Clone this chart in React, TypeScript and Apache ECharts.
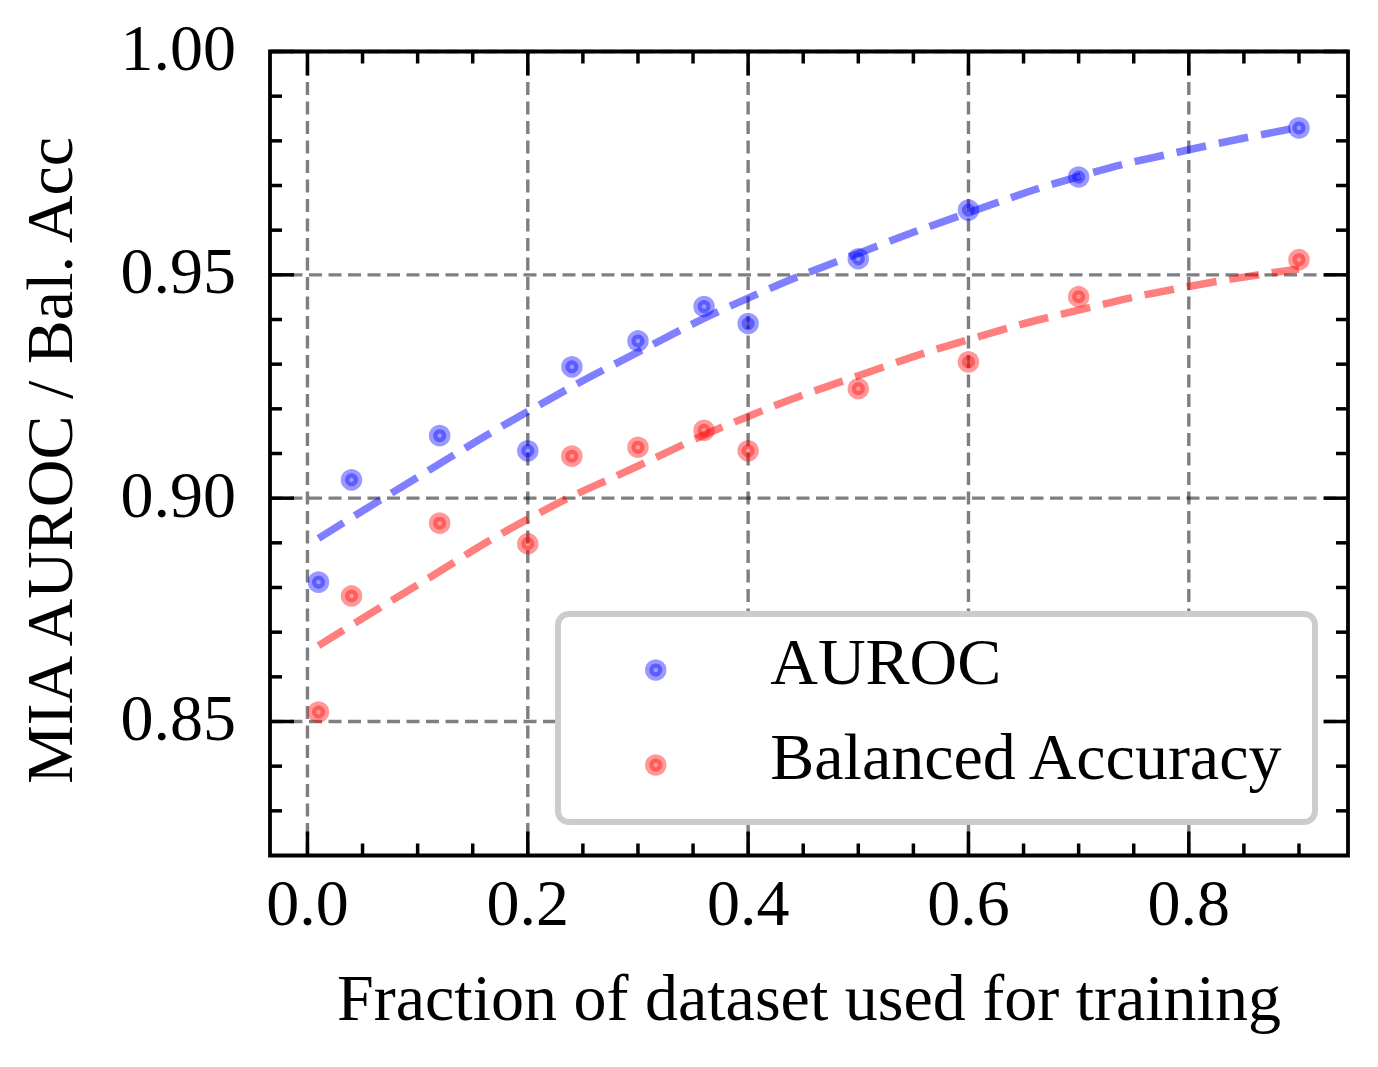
import React, { useEffect, useRef } from "react";
import * as echarts from "echarts";

// ---- data ----
const xFractions = [0.01, 0.04, 0.12, 0.2, 0.24, 0.3, 0.36, 0.4, 0.5, 0.6, 0.7, 0.9];
const aurocValues = [0.8812, 0.9041, 0.914, 0.9106, 0.9294, 0.9352, 0.9429, 0.9391, 0.9536, 0.9645, 0.9719, 0.9829];
const balAccValues = [0.8521, 0.8781, 0.8944, 0.8898, 0.9094, 0.9114, 0.9152, 0.9106, 0.9245, 0.9305, 0.9451, 0.9534];

const fitX = [0.01, 0.1, 0.2, 0.3, 0.4, 0.5, 0.6, 0.7, 0.8, 0.9];
const aurocFit = [0.891, 0.9047, 0.9194, 0.9327, 0.9448, 0.9548, 0.9639, 0.972, 0.978, 0.983];
const balAccFit = [0.867, 0.8806, 0.8953, 0.9072, 0.9183, 0.9274, 0.9355, 0.9421, 0.9474, 0.9513];

const xMajorTicks = [0.0, 0.2, 0.4, 0.6, 0.8];
const xTickLabels = ["0.0", "0.2", "0.4", "0.6", "0.8"];
const xMinorTicks = [0.05, 0.1, 0.15, 0.25, 0.3, 0.35, 0.45, 0.5, 0.55, 0.65, 0.7, 0.75, 0.85, 0.9];
const yMajorTicks = [0.85, 0.9, 0.95, 1.0];
const yTickLabels = ["0.85", "0.90", "0.95", "1.00"];
const yMinorTicks = [0.83, 0.84, 0.86, 0.87, 0.88, 0.89, 0.91, 0.92, 0.93, 0.94, 0.96, 0.97, 0.98, 0.99];

const seriesNames = ["AUROC", "Balanced Accuracy"];
const xTitle = "Fraction of dataset used for training";
const yTitle = "MIA AUROC / Bal. Acc";

const X_MIN = -0.034;
const X_MAX = 0.9445;
const Y_MIN = 0.82;
const Y_MAX = 1.0;

const FONT = '"Liberation Serif", "Times New Roman", "DejaVu Serif", serif';
const FS = 66;

// tick rows: [value, axis (0 = x, 1 = y), major flag, label index]
const tickRows = [
  ...xMajorTicks.map((v, i) => [v, 0, 1, i]),
  ...xMinorTicks.map((v) => [v, 0, 0, -1]),
  ...yMajorTicks.map((v, i) => [v, 1, 1, i]),
  ...yMinorTicks.map((v) => [v, 1, 0, -1]),
];
const gridRows = [
  ...xMajorTicks.map((v) => [v, 0]),
  ...yMajorTicks.map((v) => [v, 1]),
];

function App() {
  const ref = useRef<HTMLDivElement>(null);

  useEffect(() => {
    if (!ref.current) return;
    const chart = echarts.init(ref.current, null, { renderer: "svg" });

    const tickStyle = { stroke: "#000", lineWidth: 3.5 };

    const renderTicks = (params: any, api: any) => {
      const v = api.value(0);
      const onY = api.value(1) === 1;
      const major = api.value(2) === 1;
      const li = api.value(3);
      const len = major ? 24 : 12;
      const children: any[] = [];
      if (!onY) {
        const b = api.coord([v, Y_MIN]);
        const t = api.coord([v, Y_MAX]);
        children.push({ type: "line", shape: { x1: b[0], y1: b[1], x2: b[0], y2: b[1] - len }, style: tickStyle });
        children.push({ type: "line", shape: { x1: t[0], y1: t[1], x2: t[0], y2: t[1] + len }, style: tickStyle });
        if (major) {
          children.push({
            type: "text",
            x: b[0],
            y: b[1] + 47,
            style: { text: xTickLabels[li], fill: "#000", fontSize: FS, fontFamily: FONT, align: "center", verticalAlign: "middle" },
          });
        }
      } else {
        const l = api.coord([X_MIN, v]);
        const r = api.coord([X_MAX, v]);
        children.push({ type: "line", shape: { x1: l[0], y1: l[1], x2: l[0] + len, y2: l[1] }, style: tickStyle });
        children.push({ type: "line", shape: { x1: r[0], y1: r[1], x2: r[0] - len, y2: r[1] }, style: tickStyle });
        if (major) {
          children.push({
            type: "text",
            x: l[0] - 34,
            y: l[1] - 4,
            style: { text: yTickLabels[li], fill: "#000", fontSize: FS, fontFamily: FONT, align: "right", verticalAlign: "middle" },
          });
        }
      }
      return { type: "group", children };
    };

    const renderGrid = (params: any, api: any) => {
      const v = api.value(0);
      const onY = api.value(1) === 1;
      const style = { stroke: "rgba(0,0,0,0.5)", lineWidth: 3.4, lineDash: [13, 6.5] };
      if (!onY) {
        const b = api.coord([v, Y_MIN]);
        const t = api.coord([v, Y_MAX]);
        return { type: "line", shape: { x1: b[0], y1: b[1], x2: t[0], y2: t[1] }, style };
      }
      const l = api.coord([X_MIN, v]);
      const r = api.coord([X_MAX, v]);
      return { type: "line", shape: { x1: l[0], y1: l[1], x2: r[0], y2: r[1] }, style };
    };

    const blue = "rgba(0,0,255,0.5)";
    const red = "rgba(255,0,0,0.5)";

    chart.setOption({
      animation: false,
      textStyle: { fontFamily: FONT, color: "#000" },
      grid: {
        left: 270,
        right: 30,
        top: 51.5,
        bottom: 211.5,
        show: true,
        borderColor: "#000",
        borderWidth: 3.8,
        backgroundColor: "transparent",
      },
      xAxis: {
        type: "value",
        min: X_MIN,
        max: X_MAX,
        axisLine: { show: false },
        axisTick: { show: false },
        axisLabel: { show: false },
        splitLine: { show: false },
        name: xTitle,
        nameLocation: "middle",
        nameGap: 142,
        nameTextStyle: { fontSize: FS, fontFamily: FONT, color: "#000", align: "center", verticalAlign: "middle" },
      },
      yAxis: {
        type: "value",
        min: Y_MIN,
        max: Y_MAX,
        axisLine: { show: false },
        axisTick: { show: false },
        axisLabel: { show: false },
        splitLine: { show: false },
        name: yTitle,
        nameLocation: "middle",
        nameGap: 221,
        nameTextStyle: { fontSize: FS, fontFamily: FONT, color: "#000", align: "center", verticalAlign: "middle", padding: [0, 14, 0, 0] },
      },
      legend: {
        data: seriesNames,
        orient: "vertical",
        left: 645,
        top: 628,
        padding: 0,
        itemWidth: 13,
        itemHeight: 13,
        itemGap: 19,
        z: 100,
        icon: "circle",
        itemStyle: { borderWidth: 8.5 },
        formatter: (name: string) => `{t|${name}}\n{s| }`,
        textStyle: {
          color: "#000",
          padding: [0, 0, 0, 103],
          rich: {
            t: { fontSize: FS, fontFamily: FONT, color: "#000", lineHeight: 66 },
            s: { fontSize: 2, lineHeight: 18 },
          },
        },
      },
      graphic: {
        elements: [
          {
            type: "rect",
            z: 50,
            shape: { x: 558, y: 614, width: 757, height: 208, r: 11 },
            style: { fill: "#fff", stroke: "#cccccc", lineWidth: 6 },
          },
        ],
      },
      series: [
        {
          name: "grid",
          type: "custom",
          renderItem: renderGrid,
          data: gridRows,
          z: 1,
          silent: true,
        },
        {
          name: seriesNames[0],
          type: "scatter",
          data: xFractions.map((x, i) => [x, aurocValues[i]]),
          symbol: "circle",
          symbolSize: 13,
          itemStyle: { color: blue, borderColor: blue, borderWidth: 8.5 },
          z: 3,
        },
        {
          name: seriesNames[1],
          type: "scatter",
          data: xFractions.map((x, i) => [x, balAccValues[i]]),
          symbol: "circle",
          symbolSize: 13,
          itemStyle: { color: red, borderColor: red, borderWidth: 8.5 },
          z: 3,
        },
        {
          name: "AUROC fit",
          type: "line",
          data: fitX.map((x, i) => [x, aurocFit[i]]),
          smooth: 0.5,
          showSymbol: false,
          symbol: "none",
          lineStyle: { color: blue, width: 7.5, type: [30, 13] },
          z: 4,
        },
        {
          name: "Balanced Accuracy fit",
          type: "line",
          data: fitX.map((x, i) => [x, balAccFit[i]]),
          smooth: 0.5,
          showSymbol: false,
          symbol: "none",
          lineStyle: { color: red, width: 7.5, type: [30, 13] },
          z: 4,
        },
        {
          name: "ticks",
          type: "custom",
          renderItem: renderTicks,
          data: tickRows,
          z: 10,
          silent: true,
        },
      ],
    });

    return () => chart.dispose();
  }, []);

  return (
    <div
      ref={ref}
      style={{ position: "fixed", left: 0, top: 0, width: 1378, height: 1067, background: "#fff" }}
    />
  );
}

export default App;
